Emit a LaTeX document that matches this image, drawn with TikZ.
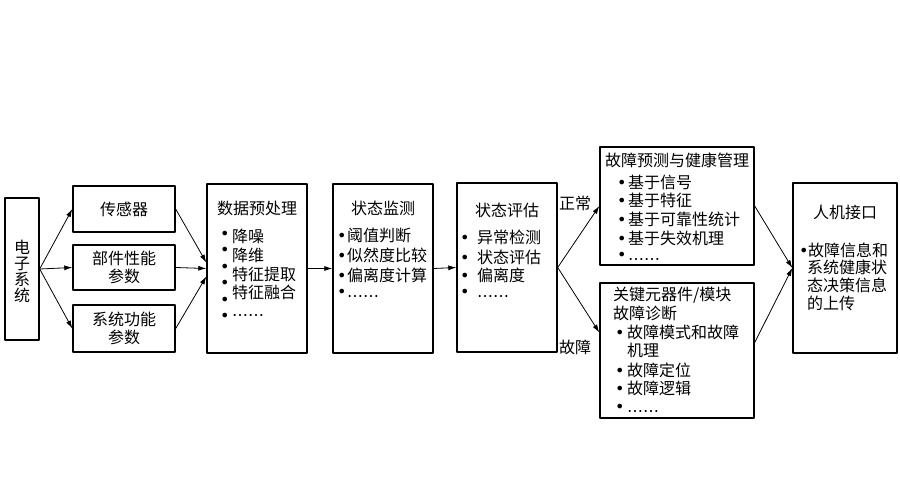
\documentclass[tikz,border=0pt]{standalone}
\usepackage{fontspec}
\setmainfont{Noto Sans CJK SC}
\newfontfamily\symfont{DejaVu Sans}
\usetikzlibrary{arrows.meta}
\newcommand\bul[1][12pt]{\makebox[#1][l]{\symfont •}}
\newcommand\ellip{{\symfont ……}}

\begin{document}
\begin{tikzpicture}[x=1pt,y=-1pt,line cap=round,line join=round,
  box/.style={draw=black,line width=1.4pt,inner sep=0pt,align=center,
    font=\fontsize{16}{18}\selectfont},
  txt/.style={inner sep=0pt,font=\fontsize{16}{18}\selectfont},
  item/.style={txt,anchor=west},
  dot/.style={inner sep=0pt,anchor=west,font=\fontsize{16}{18}\symfont},
  flow/.style={draw=black,line width=0.8pt,-{Latex[length=8pt,width=5pt]}}]
\useasboundingbox[fill=white] (0,0) rectangle (900,500);

% left column
\node[box,minimum width=34,minimum height=142] (sys) at (22,269) {};
\node[txt,align=center,font=\fontsize{16}{16}\selectfont] (sys-t) at (22,271) {电\\子\\系\\统};
\node[box,minimum width=102,minimum height=46] (sensor) at (124,209) {传感器};
\node[box,minimum width=102,minimum height=45] (part) at (124,267.5) {部件性能\\参数};
\node[box,minimum width=102,minimum height=47] (func) at (124,328.5) {系统功能\\参数};

% main chain
\node[box,minimum width=100,minimum height=169] (pre) at (257,268.5) {};
\node[box,minimum width=100,minimum height=169] (mon) at (383,268.5) {};
\node[box,minimum width=100,minimum height=169] (eval) at (507,267.5) {};
\node[box,minimum width=154,minimum height=118] (upper) at (677,206) {};
\node[box,minimum width=154,minimum height=135] (low) at (677,350.5) {};
\node[box,minimum width=104,minimum height=170] (hmi) at (845,268) {};

% box texts
\node[txt] (pre-title) at (257,208) {数据预处理};
\foreach \y [count=\i] in {235,251.5,268,284.5,301,317.5}
  \node[dot] (pre-b\i) at (220,\y) {•};
\foreach \t/\y [count=\i] in {降噪/236,降维/255,特征提取/274,特征融合/292,\ellip/316}
  \node[item] (pre-\i) at (232,\y) {\t};

\node[txt] (mon-title) at (383,208) {状态监测};
\foreach \t/\y [count=\i] in {阈值判断/235,似然度比较/255,偏离度计算/275,\ellip/293}
  \node[item] (mon-\i) at (337,\y) {\bul[10pt]\t};

\node[txt] (eval-title) at (507,210) {状态评估};
\foreach \t/\y [count=\i] in {异常检测/237,状态评估/257,偏离度/275,\ellip/293}
  \node[item] (eval-\i) at (460,\y) {\bul[17pt]\t};

\node[txt] (upper-title) at (677,160) {故障预测与健康管理};
\foreach \t/\y [count=\i] in {基于信号/182,基于特征/200,基于可靠性统计/219,基于失效机理/238,\ellip/256}
  \node[item] (upper-\i) at (617,\y) {\bul[11pt]\t};

\node[item] (low-title1) at (613,295) {关键元器件/模块};
\node[item] (low-title2) at (613,313) {故障诊断};
\node[item] (low-1) at (615,332) {\bul{}故障模式和故障};
\node[item] (low-1b) at (627,350) {机理};
\foreach \t/\y [count=\i from 2] in {故障定位/370,故障逻辑/388,\ellip/408}
  \node[item] (low-\i) at (615,\y) {\bul\t};

\node[txt] (hmi-title) at (845,212) {人机接口};
\node[item] (hmi-1) at (799,250) {\bul[9pt]故障信息和};
\foreach \t/\y [count=\i from 2] in {系统健康状/267,态决策信息/285,的上传/303}
  \node[item] (hmi-\i) at (807,\y) {\t};

% branch labels
\node[txt] (lbl-ok) at (575,203) {正常};
\node[txt] (lbl-fault) at (575,347) {故障};

% connectors
\draw[flow] (sys.east) -- (sensor.west);
\draw[flow] (sys.east) -- (part.west);
\draw[flow] (sys.east) -- (func.west);
\draw[flow] (sensor.east) -- ([yshift=6pt]pre.west);
\draw[flow] (part.east) -- (pre.west);
\draw[flow] (func.east) -- ([yshift=-8pt]pre.west);
\draw[flow] (pre.east) -- (mon.west);
\draw[flow] (mon.east) -- (eval.west);
\draw[flow] (eval.east) -- (upper.west);
\draw[flow] (eval.east) -- ([yshift=18pt]low.west);
\draw[flow] (upper.east) -- (hmi.west);
\draw[flow] ([yshift=8pt]low.east) -- (hmi.west);
\end{tikzpicture}
\end{document}
